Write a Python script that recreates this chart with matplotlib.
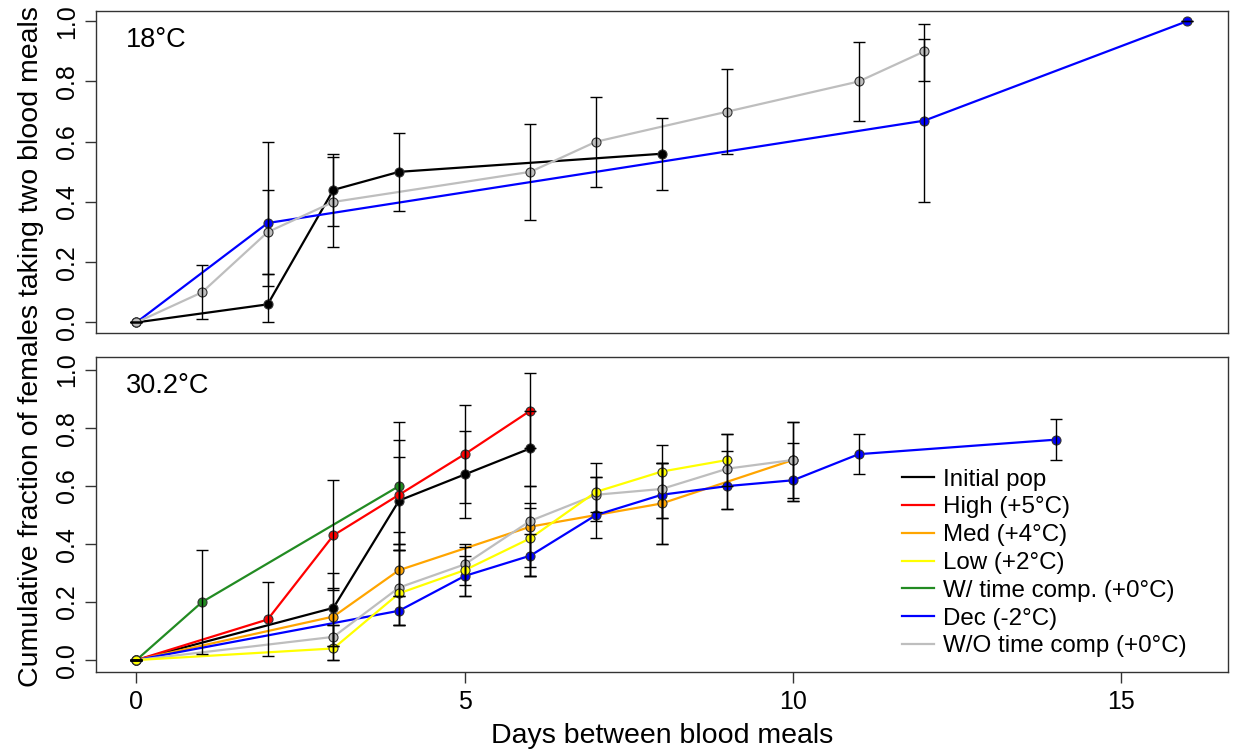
import matplotlib
matplotlib.use('Agg')
import matplotlib.pyplot as plt

plt.rcParams['font.family'] = ['Liberation Sans', 'DejaVu Sans']

# ---- top panel (18 C) ----
top_init_x = [0, 2, 3, 4, 8]
top_init_y = [0.0, 0.06, 0.44, 0.50, 0.56]
top_init_lo = [0.0, 0.0, 0.32, 0.37, 0.44]
top_init_hi = [0.0, 0.16, 0.56, 0.63, 0.68]

top_wo_x = [0, 1, 2, 3, 6, 7, 9, 11, 12]
top_wo_y = [0.0, 0.10, 0.30, 0.40, 0.50, 0.60, 0.70, 0.80, 0.90]
top_wo_lo = [0.0, 0.01, 0.16, 0.25, 0.34, 0.45, 0.56, 0.67, 0.80]
top_wo_hi = [0.0, 0.19, 0.44, 0.55, 0.66, 0.75, 0.84, 0.93, 0.99]

top_dec_x = [0, 2, 12, 16]
top_dec_y = [0.0, 0.33, 0.67, 1.0]
top_dec_lo = [0.0, 0.12, 0.40, 1.0]
top_dec_hi = [0.0, 0.60, 0.94, 1.0]

# ---- bottom panel (30.2 C) ----
init_x = [0, 3, 4, 5, 6]
init_y = [0.0, 0.18, 0.55, 0.64, 0.73]
init_lo = [0.0, 0.05, 0.40, 0.49, 0.60]
init_hi = [0.0, 0.30, 0.70, 0.79, 0.86]

high_x = [0, 2, 3, 4, 5, 6]
high_y = [0.0, 0.14, 0.43, 0.57, 0.71, 0.86]
high_lo = [0.0, 0.015, 0.24, 0.38, 0.54, 0.73]
high_hi = [0.0, 0.27, 0.62, 0.76, 0.88, 0.99]

med_x = [0, 3, 4, 6, 8, 10]
med_y = [0.0, 0.15, 0.31, 0.46, 0.54, 0.69]
med_lo = [0.0, 0.05, 0.22, 0.29, 0.40, 0.55]
med_hi = [0.0, 0.25, 0.44, 0.525, 0.68, 0.82]

low_x = [0, 3, 4, 5, 6, 7, 8, 9]
low_y = [0.0, 0.04, 0.23, 0.31, 0.42, 0.58, 0.65, 0.69]
low_lo = [0.0, 0.0, 0.12, 0.22, 0.29, 0.48, 0.49, 0.60]
low_hi = [0.0, 0.12, 0.40, 0.39, 0.54, 0.68, 0.74, 0.78]

wtc_x = [0, 1, 4]
wtc_y = [0.0, 0.20, 0.60]
wtc_lo = [0.0, 0.02, 0.38]
wtc_hi = [0.0, 0.38, 0.82]

dec_x = [0, 4, 5, 6, 7, 8, 9, 10, 11, 14]
dec_y = [0.0, 0.17, 0.29, 0.36, 0.50, 0.57, 0.60, 0.62, 0.71, 0.76]
dec_lo = [0.0, 0.12, 0.22, 0.29, 0.42, 0.49, 0.52, 0.56, 0.64, 0.69]
dec_hi = [0.0, 0.22, 0.36, 0.434, 0.63, 0.68, 0.72, 0.75, 0.78, 0.83]

wo_x = [0, 3, 4, 5, 6, 7, 8, 9, 10]
wo_y = [0.0, 0.08, 0.25, 0.33, 0.48, 0.57, 0.59, 0.66, 0.69]
wo_lo = [0.0, 0.0, 0.12, 0.26, 0.32, 0.51, 0.40, 0.52, 0.55]
wo_hi = [0.0, 0.12, 0.38, 0.40, 0.60, 0.63, 0.68, 0.78, 0.82]

labels = ['Initial pop', 'High (+5°C)', 'Med (+4°C)', 'Low (+2°C)',
          'W/ time comp. (+0°C)', 'Dec (-2°C)', 'W/O time comp (+0°C)']
colors = ['black', '#FF0000', '#FFA500', '#FFFF00', '#228B22', '#0000FF', '#BEBEBE']

tick_font = ['Liberation Sans Narrow', 'Liberation Sans', 'DejaVu Sans']


def draw(ax, x, y, lo, hi, col, lab=None):
    ax.plot(x, y, '-', color=col, lw=1.6, zorder=2, label=lab)
    ax.plot(x, y, 'o', ms=6.5, mfc=col, mec='#333333', mew=0.8, zorder=3)
    err = [[v - l for v, l in zip(y, lo)], [h - v for v, h in zip(y, hi)]]
    ax.errorbar(x, y, yerr=err, fmt='none', ecolor='black', elinewidth=1,
                capsize=4.5, capthick=1, zorder=4)


fig = plt.figure(figsize=(12.36, 7.54), dpi=100)
ax1 = fig.add_axes([0.0774, 0.5584, 0.9159, 0.4274])
ax2 = fig.add_axes([0.0774, 0.1092, 0.9159, 0.4169])

draw(ax1, top_init_x, top_init_y, top_init_lo, top_init_hi, colors[0])
draw(ax1, top_dec_x, top_dec_y, top_dec_lo, top_dec_hi, colors[5])
draw(ax1, top_wo_x, top_wo_y, top_wo_lo, top_wo_hi, colors[6])

draw(ax2, init_x, init_y, init_lo, init_hi, colors[0], labels[0])
draw(ax2, high_x, high_y, high_lo, high_hi, colors[1], labels[1])
draw(ax2, med_x, med_y, med_lo, med_hi, colors[2], labels[2])
draw(ax2, wtc_x, wtc_y, wtc_lo, wtc_hi, colors[4], labels[4])
draw(ax2, dec_x, dec_y, dec_lo, dec_hi, colors[5], labels[5])
draw(ax2, wo_x, wo_y, wo_lo, wo_hi, colors[6], labels[6])
draw(ax2, low_x, low_y, low_lo, low_hi, colors[3], labels[3])

for ax in (ax1, ax2):
    ax.set_xlim(-0.62, 16.62)
    ax.set_yticks([0, 0.2, 0.4, 0.6, 0.8, 1.0])
    ax.set_yticklabels(['0.0', '0.2', '0.4', '0.6', '0.8', '1.0'],
                       rotation=90, va='center', family=tick_font, fontsize=18)
    ax.tick_params(axis='y', length=8, width=1, pad=4, color='#333333')
    for s in ax.spines.values():
        s.set_color('#333333')
        s.set_linewidth(1)

ax1.set_ylim(-0.035, 1.035)
ax2.set_ylim(-0.04, 1.044)
ax1.set_xticks([])
ax2.set_xticks([0, 5, 10, 15])
ax2.set_xticklabels(['0', '5', '10', '15'], family=tick_font, fontsize=18)
ax2.tick_params(axis='x', length=8, width=1, pad=5, color='#333333')

ax1.text(0.027, 0.91, '18°C', transform=ax1.transAxes, fontsize=19.5,
         va='center', ha='left')
ax2.text(0.027, 0.91, '30.2°C', transform=ax2.transAxes, fontsize=19.5,
         va='center', ha='left')

handles, labs = ax2.get_legend_handles_labels()
order = [labs.index(l) for l in labels]
ax2.legend([handles[i] for i in order], [labs[i] for i in order],
           loc='upper left', bbox_to_anchor=(0.712, 0.646), frameon=False,
           fontsize=17.4, handlelength=1.32, handletextpad=0.41,
           labelspacing=0.24, borderpad=0, borderaxespad=0)

ax2.set_xlabel('Days between blood meals', fontsize=20.5, labelpad=7)
fig.text(0.025, 0.5405, 'Cumulative fraction of females taking two blood meals',
         rotation=90, fontsize=20.5, va='center', ha='center')

fig.savefig('out.png', dpi=100)
